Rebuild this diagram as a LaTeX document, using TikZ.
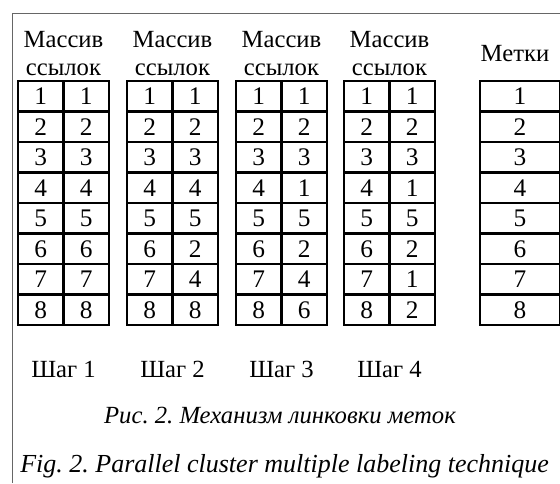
\documentclass[tikz,border=0pt]{standalone}
\usepackage{fontspec}
\setmainfont{Liberation Serif}
\frenchspacing
\begin{document}
\begin{tikzpicture}[x=0.75pt,y=-0.75pt,
  cell/.style={draw,line width=1.5pt,minimum width=34.1pt,minimum height=22.9pt,inner sep=0pt,font=\fontsize{19}{22}\selectfont},
  markcell/.style={cell,minimum width=60pt},
  head/.style={anchor=base,inner sep=0pt,font=\fontsize{18.5}{21}\selectfont},
  caption/.style={anchor=base,inner sep=0pt,font=\fontsize{18.5}{22}\selectfont\itshape}]
\path[use as bounding box] (0,0) rectangle (560,483);
% Outer frame, cut off by the page edge.
\draw[black!60,line width=0.75pt] (12,483) -- (12,13) -- (560,13);
% Step 1: link array.
\begin{scope}[shift={(18,81)}]
\foreach \v [count=\i] in {1,2,3,4,5,6,7,8} {
  \node[cell] (s1l\i) at (22.75,30.5*\i-15.25) {\i};
  \node[cell] (s1r\i) at (68.25,30.5*\i-15.25) {\v};
}
\node[head] (s1h1) at (45.5,-34) {Массив};
\node[head] (s1h2) at (45.5,-6) {ссылок};
\node[head] (s1name) at (45.5,296) {Шаг 1};
\end{scope}
% Step 2: link array.
\begin{scope}[shift={(127,81)}]
\foreach \v [count=\i] in {1,2,3,4,5,2,4,8} {
  \node[cell] (s2l\i) at (22.75,30.5*\i-15.25) {\i};
  \node[cell] (s2r\i) at (68.25,30.5*\i-15.25) {\v};
}
\node[head] (s2h1) at (45.5,-34) {Массив};
\node[head] (s2h2) at (45.5,-6) {ссылок};
\node[head] (s2name) at (45.5,296) {Шаг 2};
\end{scope}
% Step 3: link array.
\begin{scope}[shift={(236,81)}]
\foreach \v [count=\i] in {1,2,3,1,5,2,4,6} {
  \node[cell] (s3l\i) at (22.75,30.5*\i-15.25) {\i};
  \node[cell] (s3r\i) at (68.25,30.5*\i-15.25) {\v};
}
\node[head] (s3h1) at (45.5,-34) {Массив};
\node[head] (s3h2) at (45.5,-6) {ссылок};
\node[head] (s3name) at (45.5,296) {Шаг 3};
\end{scope}
% Step 4: link array.
\begin{scope}[shift={(344,81)}]
\foreach \v [count=\i] in {1,2,3,1,5,2,1,2} {
  \node[cell] (s4l\i) at (22.75,30.5*\i-15.25) {\i};
  \node[cell] (s4r\i) at (68.25,30.5*\i-15.25) {\v};
}
\node[head] (s4h1) at (45.5,-34) {Массив};
\node[head] (s4h2) at (45.5,-6) {ссылок};
\node[head] (s4name) at (45.5,296) {Шаг 4};
\end{scope}
% Labels column.
\begin{scope}[shift={(480,81)}]
\foreach \i in {1,...,8} {
  \node[markcell] (mk\i) at (40,30.5*\i-15.25) {\i};
}
\node[head] (mkh) at (35,-20) {Метки};
\end{scope}
% Captions.
\node[caption] (capru) at (280,423) {Рис. 2. Механизм линковки меток};
\node[caption,anchor=base west,font=\fontsize{19.5}{22}\selectfont\itshape] (capen) at (20,472) {Fig. 2. Parallel cluster multiple labeling technique};
\end{tikzpicture}
\end{document}
